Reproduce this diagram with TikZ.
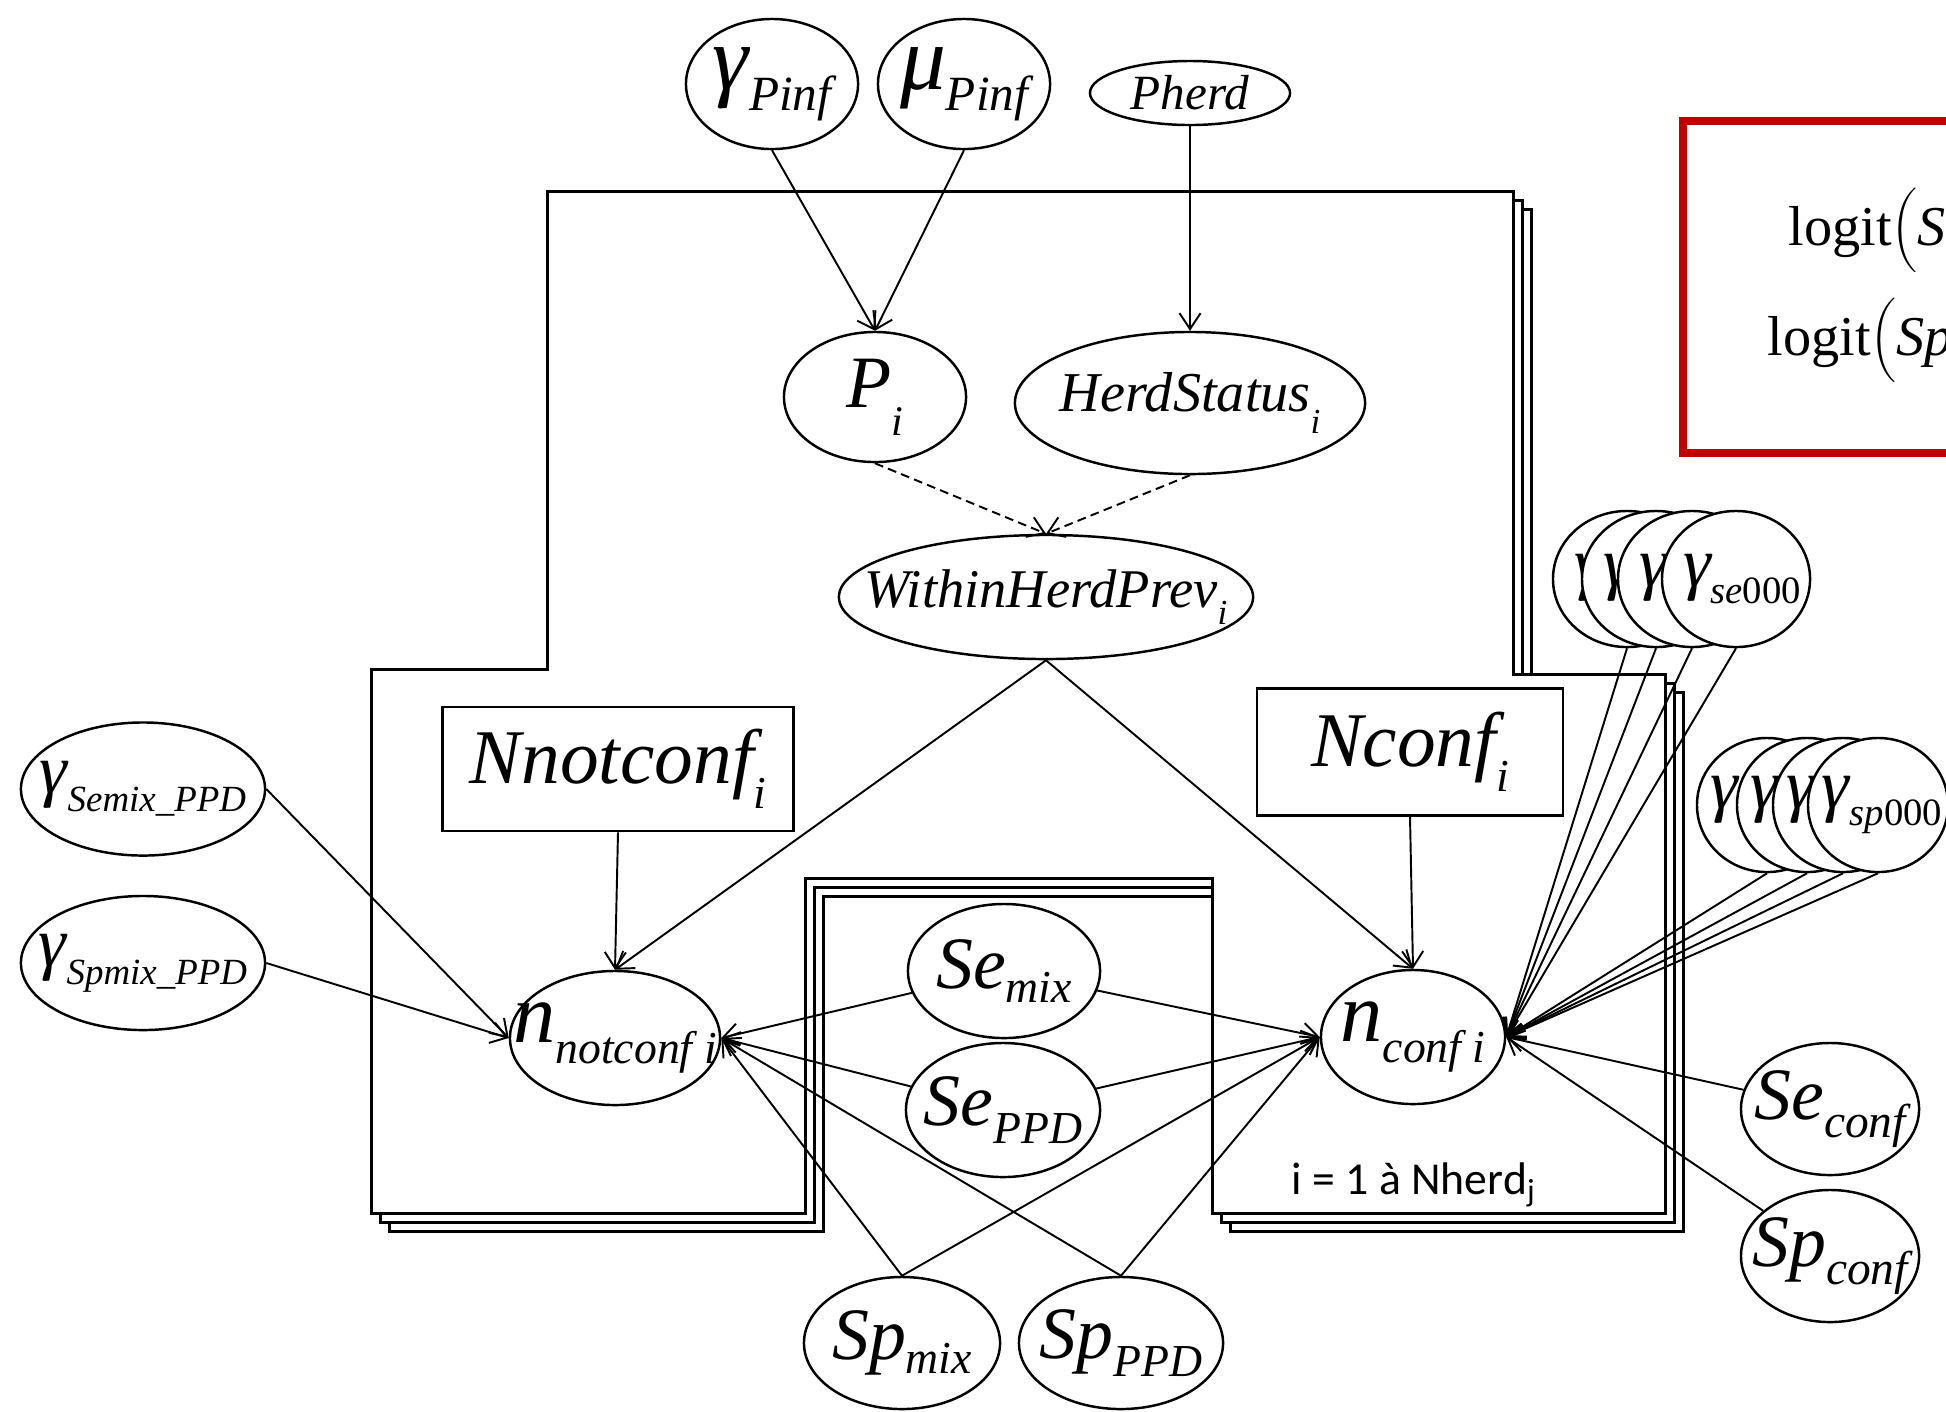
\documentclass[tikz,border=0pt]{standalone}
\usepackage{fontspec}
\setmainfont{Liberation Serif}
\newfontfamily\calibri{Carlito}
\usetikzlibrary{positioning, arrows.meta, shapes.geometric}
\definecolor{boxred}{RGB}{192,0,0}
\newcommand{\txt}[2]{{\fontsize{#1}{#1}\selectfont\itshape #2}}
\newcommand{\lab}[5]{\txt{#1}{#2}\raisebox{#5}{\txt{#3}{#4}}}
\tikzstyle{var} = [ellipse, draw=black, line width=0.7pt, fill=white, inner sep=0pt]
\tikzstyle{data} = [rectangle, draw=black, line width=0.7pt, fill=white, inner sep=0pt]
\tikzstyle{plate} = [draw=black, line width=0.85pt, fill=white]
\tikzstyle{arrow} = [line width=0.55pt,-{Straight Barb[length=4.5pt,width=6pt]}]

\begin{document}
\begin{tikzpicture}[x=0.01cm, y=-0.01cm]
\useasboundingbox (0,0) rectangle (1946,1411);
\clip (0,0) rectangle (1946,1411);

\foreach \d in {18,9,0}
  \draw [plate, shift={(\d,\d)}] (547,191) -- (1513,191) -- (1513,674) -- (1665,674) -- (1665,1213) -- (1212,1213) -- (1212,878) -- (805,878) -- (805,1213) -- (371,1213) -- (371,669) -- (547,669) -- cycle;

\draw [boxred, line width=2.3pt] (1683,121) rectangle (2050,453);
\node (logse) [anchor=base west, inner sep=0pt] at (1788,245) {\fontsize{16pt}{16pt}\selectfont logit$\bigg($\textit{Se}};
\node (logsp) [anchor=base west, inner sep=0pt] at (1767,355) {\fontsize{16pt}{16pt}\selectfont logit$\bigg($\textit{Sp}};

\node (gpinf) [var, minimum width=1.72cm, minimum height=1.3cm, label=center:{\lab{26pt}{γ}{14pt}{Pinf}{-6pt}}] at (772,84) {};
\node (mupinf) [var, minimum width=1.72cm, minimum height=1.3cm, label=center:{\lab{26pt}{μ}{14pt}{Pinf}{-6pt}}] at (964,84) {};
\node (pherd) [var, minimum width=2cm, minimum height=0.64cm, label=center:{\txt{14pt}{Pherd}}] at (1190,93) {};
\node (pi) [var, minimum width=1.82cm, minimum height=1.3cm, label=center:{\lab{21pt}{P}{12pt}{i}{-8pt}}] at (875,397) {};
\node (hs) [var, minimum width=3.5cm, minimum height=1.42cm, label=center:{\lab{16pt}{HerdStatus}{10pt}{i}{-6pt}}] at (1190,403) {};
\node (whp) [var, minimum width=4.14cm, minimum height=1.24cm, label=center:{\lab{15.5pt}{WithinHerdPrev}{10pt}{i}{-5pt}}] at (1046,597) {};

\node (nnot) [data, minimum width=3.51cm, minimum height=1.24cm] at (618,769) {\lab{22pt}{Nnotconf}{13pt}{i}{-7pt}};
\node (nconf) [data, minimum width=3.06cm, minimum height=1.27cm] at (1410,752) {\lab{22pt}{Nconf}{13pt}{i}{-7pt}};

\node (nn) [var, minimum width=2.1cm, minimum height=1.34cm, label=center:{\lab{24pt}{n}{13pt}{notconf i}{-6pt}}] at (615,1038) {};
\node (nc) [var, minimum width=1.84cm, minimum height=1.34cm, label=center:{\lab{24pt}{n}{13pt}{conf i}{-6pt}}] at (1413,1037) {};
\node (semix) [var, minimum width=1.92cm, minimum height=1.34cm, label=center:{\lab{21pt}{Se}{13pt}{mix}{-4pt}}] at (1004,971) {};
\node (seppd) [var, minimum width=1.94cm, minimum height=1.34cm, label=center:{\lab{21pt}{Se}{13pt}{PPD}{-5pt}}] at (1003,1110) {};
\node (spmix) [var, minimum width=1.96cm, minimum height=1.32cm, label=center:{\lab{21pt}{Sp}{13pt}{mix}{-4pt}}] at (902,1343) {};
\node (spppd) [var, minimum width=2.04cm, minimum height=1.32cm, label=center:{\lab{21pt}{Sp}{13pt}{PPD}{-5pt}}] at (1121,1343) {};
\node (gsemix) [var, minimum width=2.44cm, minimum height=1.33cm, label=center:{\lab{20pt}{γ}{10.5pt}{Semix\_PPD}{-5pt}}] at (143,789) {};
\node (gspmix) [var, minimum width=2.44cm, minimum height=1.34cm, label=center:{\lab{20pt}{γ}{10.5pt}{Spmix\_PPD}{-5pt}}] at (143,963) {};
\node (seconf) [var, minimum width=1.78cm, minimum height=1.32cm, label=center:{\lab{21pt}{Se}{13.5pt}{conf}{-5pt}}] at (1830,1109) {};
\node (spconf) [var, minimum width=1.78cm, minimum height=1.32cm, label=center:{\lab{21pt}{Sp}{13.5pt}{conf}{-5pt}}] at (1830,1256) {};

\foreach \x [count=\k] in {1627,1656,1692,1736}
  \node (gse\k) [var, minimum width=1.48cm, minimum height=1.36cm, label={[xshift=0.06cm]center:\lab{20pt}{γ}{11pt}{se\upshape 000}{-5pt}}] at (\x,579) {};
\foreach \x [count=\k] in {1767,1807,1843,1878}
  \node (gsp\k) [var, minimum width=1.4cm, minimum height=1.34cm, label={[xshift=0.04cm]center:\lab{20pt}{γ}{11pt}{sp\upshape 000}{-5pt}}] at (\x,805) {};

\node (range) [anchor=base west, inner sep=0pt] at (1291,1194) {\calibri\fontsize{13pt}{13pt}\selectfont i = 1 à Nherd\textsubscript{j}};

\draw [arrow] (gpinf.south) -- (pi.north);
\draw [arrow] (mupinf.south) -- (pi.north);
\draw [arrow] (pherd.south) -- (hs.north);
\draw [arrow, dash pattern=on 2.5pt off 1.5pt] (pi.south) -- (whp.north);
\draw [arrow, dash pattern=on 2.5pt off 1.5pt] (hs.south) -- (whp.north);
\draw [arrow] (whp.south) -- (nn.north);
\draw [arrow] (whp.south) -- (nc.north);
\draw [arrow] (nnot.south) -- (nn.north);
\draw [arrow] (nconf.south) -- (nc.north);
\draw [arrow] (gsemix.east) -- (nn.west);
\draw [arrow] (gspmix.east) -- (nn.west);
\foreach \s in {semix, seppd} {
  \draw [arrow] (\s) -- (nn.east);
  \draw [arrow] (\s) -- (nc.west);
}
\foreach \s in {spmix, spppd} {
  \draw [arrow] (\s.north) -- (nn.east);
  \draw [arrow] (\s.north) -- (nc.west);
}
\foreach \k in {1,...,4} {
  \draw [arrow] (gse\k.south) -- (nc.east);
  \draw [arrow] (gsp\k.south) -- (nc.east);
}
\draw [arrow] (seconf) -- (nc.east);
\draw [arrow] (spconf) -- (nc.east);
\end{tikzpicture}
\end{document}
